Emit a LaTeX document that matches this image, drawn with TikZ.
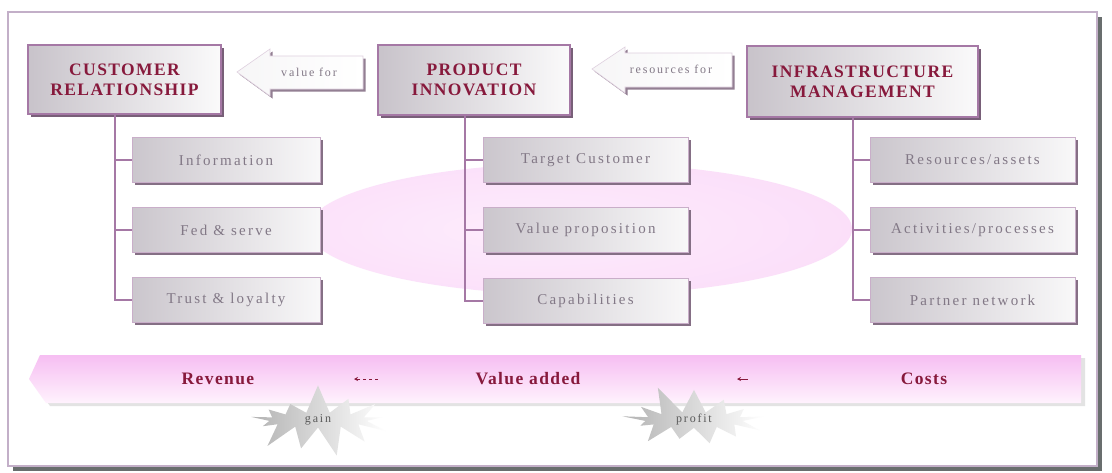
\documentclass[tikz,border=0pt]{standalone}
\usepackage{fontspec}
\setmainfont{Liberation Serif}
\newfontfamily\titlefont[LetterSpace=8]{Liberation Serif}
\newfontfamily\widefont[LetterSpace=15]{Liberation Serif}
\usetikzlibrary{shapes.symbols,shadows,calc,arrows.meta}

\definecolor{titlered}{RGB}{135,25,60}
\definecolor{subtext}{RGB}{130,120,134}
\definecolor{framecol}{RGB}{195,175,200}
\definecolor{framesh}{RGB}{105,110,110}
\definecolor{boxline}{RGB}{165,120,165}
\definecolor{boxsh}{RGB}{120,95,120}
\definecolor{boxgray}{RGB}{200,195,202}
\definecolor{pkin}{RGB}{253,236,252}
\definecolor{pkmid}{RGB}{251,222,249}
\definecolor{pkout}{RGB}{254,238,253}
\definecolor{bandtop}{RGB}{246,190,242}
\definecolor{bandbot}{RGB}{255,242,253}

% faint pink glow filling the ellipse behind the middle rows
\pgfdeclareradialshading{pinkglow}{\pgfpoint{-6bp}{0bp}}{%
  color(0bp)=(pkin); color(30bp)=(pkmid); color(47bp)=(pkout); color(50bp)=(white)}

\begin{document}
\begin{tikzpicture}[x=1pt,y=-1pt,
  titlebox/.style={draw=boxline,line width=1.2pt,left color=boxgray,right color=white!92!boxgray,
    drop shadow={shadow xshift=3pt,shadow yshift=-3pt,fill=boxsh,opacity=1},
    align=center,inner sep=0pt,
    font=\titlefont\bfseries\fontsize{17.5}{20}\selectfont,text=titlered},
  subbox/.style={draw=boxline!60,line width=0.8pt,left color=boxgray!95,right color=white!88!boxgray,
    drop shadow={shadow xshift=2.5pt,shadow yshift=-2.5pt,fill=boxsh!90,opacity=1},
    minimum height=45,inner sep=0pt,
    font=\widefont\fontsize{15}{17}\selectfont,text=subtext},
  arrowbody/.style={draw=boxline!35,line width=0.6pt,left color=white!85!boxgray,right color=white,
    drop shadow={shadow xshift=2.5pt,shadow yshift=-2.5pt,fill=boxsh!80,opacity=1}},
  arrowtext/.style={font=\widefont\fontsize{12}{14}\selectfont,text=subtext,inner sep=1pt},
  link/.style={draw=boxline,line width=1.1pt},
  bandtext/.style={font=\titlefont\bfseries\fontsize{17.5}{19}\selectfont,text=titlered,inner sep=1pt},
  flow/.style={draw=titlered,line width=0.8pt,-{Stealth[length=4pt,width=4pt]}},
  burst/.style={shape=starburst,starburst points=13,starburst point height=30pt,
    random starburst=7,minimum width=158pt,minimum height=72pt,inner sep=0pt,
    left color=gray!60,right color=white,
    font=\widefont\fontsize{12}{14}\selectfont,text=gray!70!black}]

\useasboundingbox (0,0) rectangle (1112,472);

% outer frame
\path[draw=framecol,line width=1.6pt,fill=white,
  drop shadow={shadow xshift=5pt,shadow yshift=-5pt,fill=framesh,opacity=1}]
  (8,12) rectangle (1097,466);

% pink glow
\path[shading=pinkglow] (580,229) ellipse [x radius=272,y radius=66];

% value-added band
\path[top color=bandtop,bottom color=bandbot,
  drop shadow={shadow xshift=4pt,shadow yshift=-3pt,fill=gray!22,opacity=1}]
  (29,379) -- (40,355) -- (1081,355) -- (1081,403) -- (46,403) -- cycle;

% head boxes
\node[titlebox,minimum width=193,minimum height=69] (cr) at (124.5,79.5) {CUSTOMER\\RELATIONSHIP};
\node[titlebox,minimum width=192,minimum height=70] (pi) at (474,80) {PRODUCT\\INNOVATION};
\node[titlebox,minimum width=231,minimum height=71] (im) at (862.5,81.5) {INFRASTRUCTURE\\MANAGEMENT};

% block arrows between the head boxes
\path[arrowbody] (237,72) -- (270,49) -- (270,56) -- (363,56) -- (363,89) -- (270,89) -- (270,96) -- cycle;
\node[arrowtext] (vf) at (309,72) {value for};
\path[arrowbody] (592,69) -- (625,47) -- (625,53) -- (732,53) -- (732,87) -- (625,87) -- (625,93) -- cycle;
\node[arrowtext] (rf) at (671,69) {resources for};

% sub boxes
\node[subbox,minimum width=188] (c1) at (226,160) {Information};
\node[subbox,minimum width=188] (c2) at (226,230) {Fed \& serve};
\node[subbox,minimum width=188] (c3) at (226,300) {Trust \& loyalty};

\node[subbox,minimum width=205] (p1) at (585.5,160) {Target Customer};
\node[subbox,minimum width=205] (p2) at (585.5,230) {Value proposition};
\node[subbox,minimum width=205] (p3) at (585.5,301) {Capabilities};

\node[subbox,minimum width=205] (m1) at (972.5,160) {Resources/assets};
\node[subbox,minimum width=205] (m2) at (972.5,230) {Activities/processes};
\node[subbox,minimum width=205] (m3) at (972.5,300) {Partner network};

% tree connectors
\coordinate (cx) at (115,0);
\coordinate (px) at (465,0);
\coordinate (mx) at (853,0);
\draw[link] (cr.south -| cx) |- (c3.west);
\draw[link] (c1.west -| cx) -- (c1.west);
\draw[link] (c2.west -| cx) -- (c2.west);
\draw[link] (pi.south -| px) |- (p3.west);
\draw[link] (p1.west -| px) -- (p1.west);
\draw[link] (p2.west -| px) -- (p2.west);
\draw[link] (im.south -| mx) |- (m3.west);
\draw[link] (m1.west -| mx) -- (m1.west);
\draw[link] (m2.west -| mx) -- (m2.west);

% band labels and flow arrows
\node[bandtext] (rev) at (218,379) {Revenue};
\node[bandtext] (va) at (528,379) {Value added};
\node[bandtext] (co) at (924,379) {Costs};
\coordinate (f1s) at (378,379);
\coordinate (f1e) at (354,379);
\draw[flow,dashed] (f1s) -- (f1e);
\coordinate (f2s) at (748,379);
\coordinate (f2e) at (737,379);
\draw[flow] (f2s) -- (f2e);

% bursts
\node[burst] (gain) at (318,420) {gain};
\node[burst,random starburst=11] (profit) at (694,420) {profit};

\end{tikzpicture}
\end{document}
